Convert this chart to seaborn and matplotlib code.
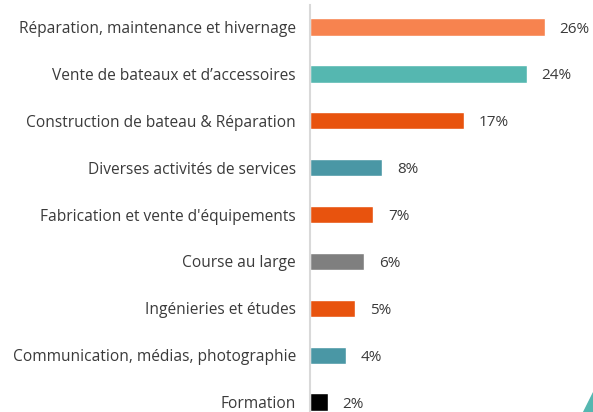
import matplotlib.pyplot as plt
import seaborn as sns
import pandas as pd
from matplotlib.patches import Polygon

categories = [
    "Réparation, maintenance et hivernage",
    "Vente de bateaux et d’accessoires",
    "Construction de bateau & Réparation",
    "Diverses activités de services",
    "Fabrication et vente d'équipements",
    "Course au large",
    "Ingénieries et études",
    "Communication, médias, photographie",
    "Formation",
]
values = [26, 24, 17, 8, 7, 6, 5, 4, 2]
colors = ["#F7834F", "#55B7B0", "#E8530E", "#4A97A5", "#E8530E",
          "#7F7F7F", "#E8530E", "#4A97A5", "#000000"]

df = pd.DataFrame({"cat": categories, "val": values})

sns.set_style("white")
plt.rcParams['font.family'] = ['Open Sans', 'DejaVu Sans']

fig = plt.figure(figsize=(5.93, 4.12), dpi=100)
ax = fig.add_axes([310 / 593, 0, 1 - 310 / 593, 407 / 412])

sns.barplot(data=df, x="val", y="cat", hue="cat", palette=colors,
            legend=False, width=0.37, ax=ax, saturation=1)

for i, v in enumerate(values):
    ax.text(v + 1.6, i, f"{v}%", va="center_baseline", ha="left",
            fontsize=11, color="#3A3A3A")

ax.set_xlim(0, 31.3)
ax.set_ylim(8.21, -0.47)
ax.set_xlabel("")
ax.set_ylabel("")
ax.set_xticks([])
ax.tick_params(axis="y", length=0, pad=10, labelsize=11.2, labelcolor="#3A3A3A")
for s in ["top", "right", "bottom"]:
    ax.spines[s].set_visible(False)
ax.spines["left"].set_color("#D9D9D9")
ax.spines["left"].set_linewidth(1.5)

# petit triangle décoratif en bas à droite
tri = Polygon([[583 / 593, 0], [1, 0], [1, 20 / 412]], closed=True,
              transform=fig.transFigure, color="#55B7B0", clip_on=False)
fig.patches.append(tri)

fig.savefig("out.png", dpi=100)
